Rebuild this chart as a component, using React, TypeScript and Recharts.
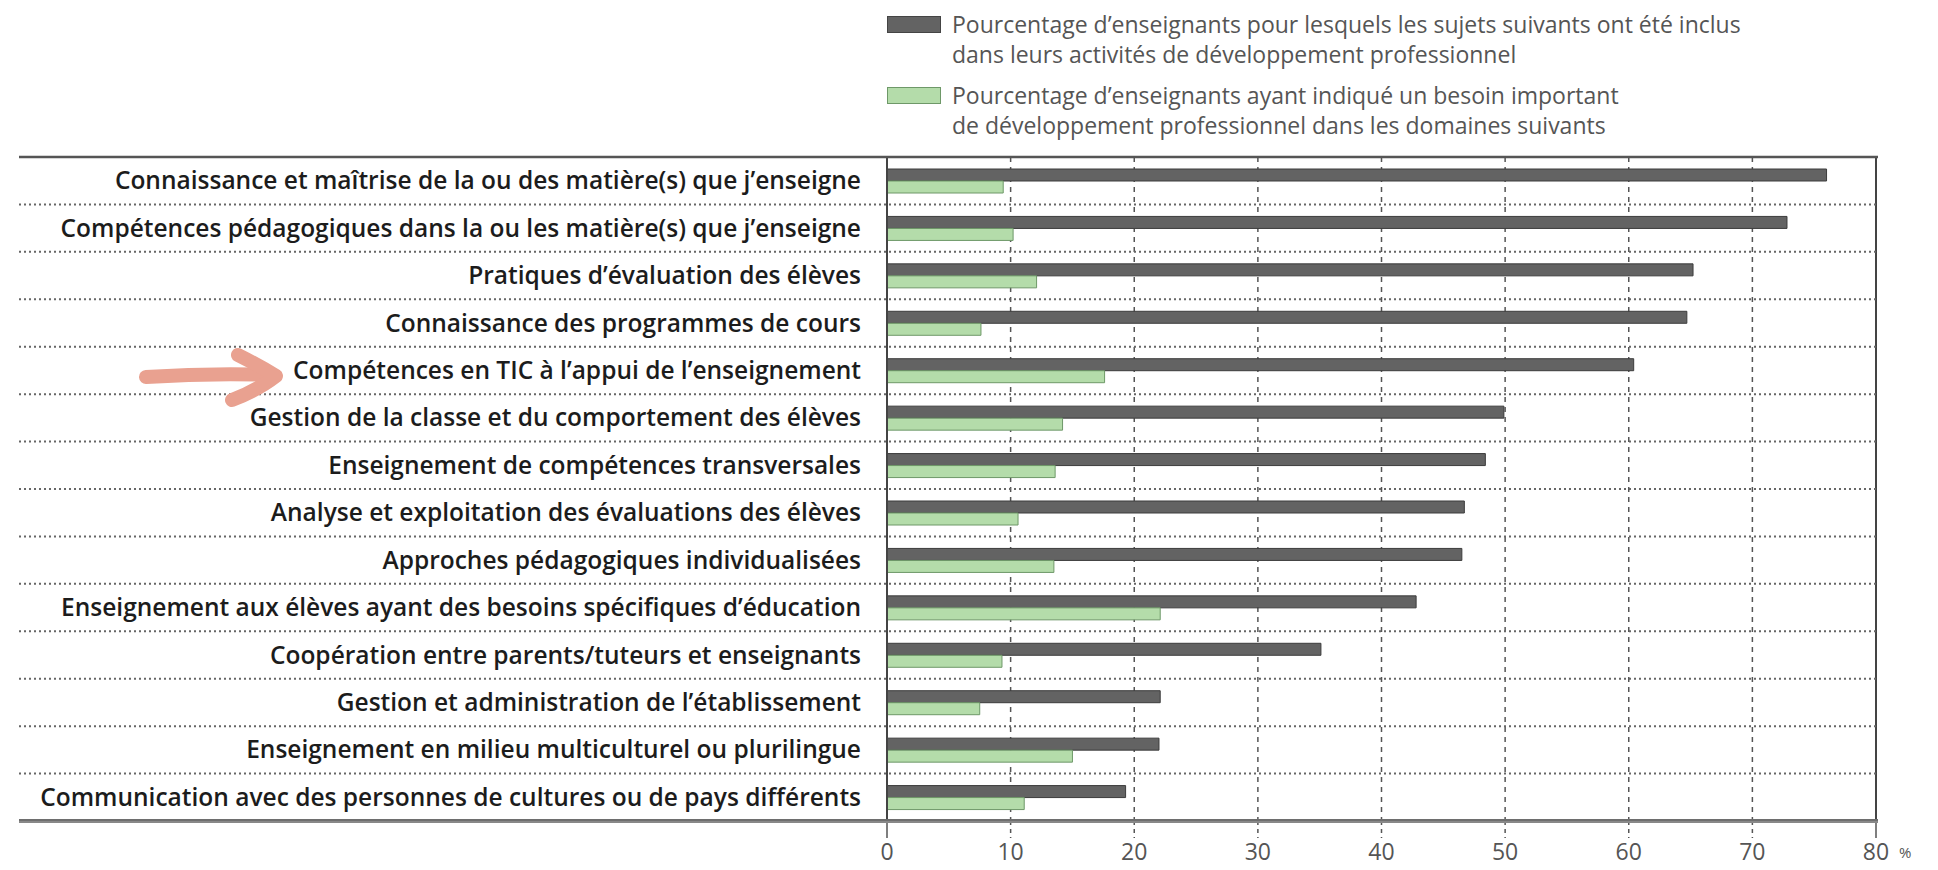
import { BarChart, Bar, XAxis, YAxis, CartesianGrid, ReferenceLine } from 'recharts';

const topics = [
  'Connaissance et maîtrise de la ou des matière(s) que j’enseigne',
  'Compétences pédagogiques dans la ou les matière(s) que j’enseigne',
  'Pratiques d’évaluation des élèves',
  'Connaissance des programmes de cours',
  'Compétences en TIC à l’appui de l’enseignement',
  'Gestion de la classe et du comportement des élèves',
  'Enseignement de compétences transversales',
  'Analyse et exploitation des évaluations des élèves',
  'Approches pédagogiques individualisées',
  'Enseignement aux élèves ayant des besoins spécifiques d’éducation',
  'Coopération entre parents/tuteurs et enseignants',
  'Gestion et administration de l’établissement',
  'Enseignement en milieu multiculturel ou plurilingue',
  'Communication avec des personnes de cultures ou de pays différents',
];

// % of teachers whose PD activities included the topic
const includedPct = [76.0, 72.8, 65.2, 64.7, 60.4, 49.9, 48.4, 46.7, 46.5, 42.8, 35.1, 22.1, 22.0, 19.3];
// % of teachers reporting a high need
const needPct = [9.4, 10.2, 12.1, 7.6, 17.6, 14.2, 13.6, 10.6, 13.5, 22.1, 9.3, 7.5, 15.0, 11.1];

const xTicks = [0, 10, 20, 30, 40, 50, 60, 70, 80];

const legendLines = [
  ['Pourcentage d’enseignants pour lesquels les sujets suivants ont été inclus', 'dans leurs activités de développement professionnel'],
  ['Pourcentage d’enseignants ayant indiqué un besoin important', 'de développement professionnel dans les domaines suivants'],
];

const DARK = '#636363';
const GREEN = '#b4dcaa';
const FONT = '"Open Sans", sans-serif';

const W = 1938;
const H = 870;
const MARGIN = { top: 157, right: 62, bottom: 0, left: 0 };
const Y_AXIS_W = 887;
const X_AXIS_H = 49;
const PLOT_BOTTOM = H - MARGIN.bottom - X_AXIS_H;
const BAND = (PLOT_BOTTOM - MARGIN.top) / topics.length;
const LINE_LEFT = 19;
const PLOT_RIGHT = W - MARGIN.right;

const data = topics.map((t, i) => ({ topic: t, included: includedPct[i], need: needPct[i] }));

function TopicTick(props: any) {
  const { y, payload, index } = props;
  const last = index === topics.length - 1;
  return (
    <g>
      {index === 0 && (
        <line x1={LINE_LEFT} x2={PLOT_RIGHT + 2} y1={y - BAND / 2} y2={y - BAND / 2} stroke="#555" strokeWidth={2.5} />
      )}
      {last ? (
        <>
          <line x1={LINE_LEFT} x2={PLOT_RIGHT + 2} y1={y + BAND / 2} y2={y + BAND / 2} stroke="#888" strokeWidth={4} />
          <line x1={LINE_LEFT} x2={PLOT_RIGHT + 2} y1={y + BAND / 2 - 1} y2={y + BAND / 2 - 1} stroke="#555" strokeWidth={1.2} />
        </>
      ) : (
        <line
          x1={LINE_LEFT}
          x2={PLOT_RIGHT}
          y1={y + BAND / 2}
          y2={y + BAND / 2}
          stroke="#666"
          strokeWidth={2}
          strokeDasharray="2 3"
        />
      )}
      <text
        x={861}
        y={y}
        dy="0.35em"
        textAnchor="end"
        fontFamily={FONT}
        fontSize={24.5}
        fontWeight={600}
        fill="#1c1c1c"
      >
        {payload.value}
      </text>
    </g>
  );
}

function PctTick(props: any) {
  const { x, payload } = props;
  const edge = payload.value === 0 || payload.value === 80;
  return (
    <g>
      <line
        x1={x}
        x2={x}
        y1={PLOT_BOTTOM}
        y2={PLOT_BOTTOM + 17}
        stroke="#555"
        strokeWidth={1.5}
        strokeDasharray={edge ? undefined : '4 4'}
      />
      <text x={x} y={PLOT_BOTTOM + 31} dy="0.35em" textAnchor="middle" fontFamily={FONT} fontSize={23} fill="#555">
        {payload.value}
      </text>
      {payload.value === 80 && (
        <text x={x + 23} y={PLOT_BOTTOM + 32} dy="0.35em" fontFamily={FONT} fontSize={15} fill="#555">
          %
        </text>
      )}
    </g>
  );
}

function LegendBlock() {
  return (
    <div style={{ position: 'absolute', left: 887, top: 9, fontFamily: FONT, color: '#555', fontSize: 23 }}>
      {legendLines.map((lines, i) => (
        <div key={i} style={{ position: 'relative', height: 71 }}>
          <div
            style={{
              position: 'absolute',
              left: 0,
              top: 7,
              width: 54,
              height: 17,
              background: i === 0 ? DARK : GREEN,
              border: `1px solid ${i === 0 ? '#444' : '#6e9868'}`,
              boxSizing: 'border-box',
            }}
          />
          <div style={{ position: 'absolute', left: 65, top: 0, lineHeight: '30px', whiteSpace: 'nowrap' }}>
            {lines.map((l) => (
              <div key={l}>{l}</div>
            ))}
          </div>
        </div>
      ))}
    </div>
  );
}

function Arrow() {
  return (
    <svg width={W} height={H} style={{ position: 'absolute', left: 0, top: 0, pointerEvents: 'none' }}>
      <g stroke="#e9a190" strokeWidth={14} strokeLinecap="round" strokeLinejoin="round" fill="none">
        <path d="M146 377 Q210 373 272 375" />
        <path d="M238 355 Q260 366 276 376 Q258 390 232 400" />
      </g>
    </svg>
  );
}

export default function App() {
  return (
    <div style={{ position: 'absolute', left: 0, top: 0, width: W, height: H, background: '#fff' }}>
      <BarChart
        width={W}
        height={H}
        data={data}
        layout="vertical"
        margin={MARGIN}
        barGap={0}
        barSize={12}
      >
        <CartesianGrid horizontal={false} stroke="#555" strokeWidth={1.5} strokeDasharray="5 5" />
        <XAxis
          type="number"
          domain={[0, 80]}
          ticks={xTicks}
          axisLine={false}
          tickLine={false}
          height={X_AXIS_H}
          tick={<PctTick />}
          interval={0}
        />
        <YAxis
          type="category"
          dataKey="topic"
          width={Y_AXIS_W}
          axisLine={{ stroke: '#444', strokeWidth: 2 }}
          tickLine={false}
          tick={<TopicTick />}
          interval={0}
        />
        <ReferenceLine x={80} stroke="#444" strokeWidth={2} />
        <Bar dataKey="included" fill={DARK} stroke="#3c3c3c" strokeWidth={1} isAnimationActive={false} />
        <Bar dataKey="need" fill={GREEN} stroke="#6e9868" strokeWidth={1} isAnimationActive={false} />
      </BarChart>
      <LegendBlock />
      <Arrow />
    </div>
  );
}
